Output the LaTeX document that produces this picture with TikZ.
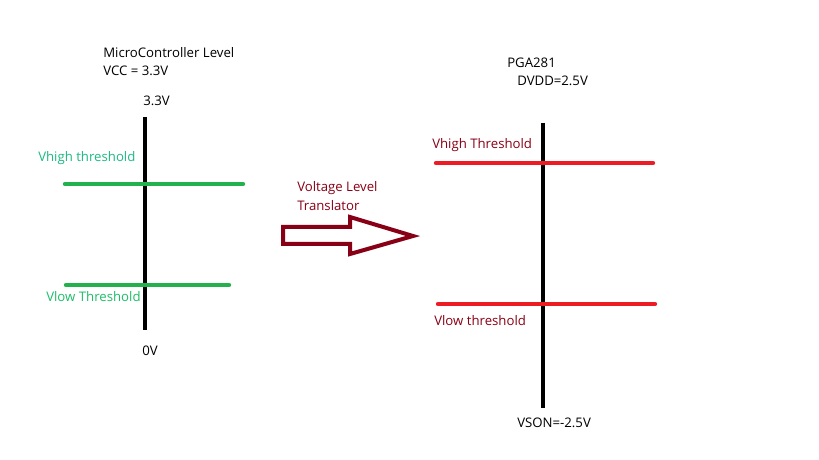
\documentclass[tikz,border=0pt]{standalone}
\usepackage{fontspec}
\setmainfont{Open Sans}
\usepackage{xcolor}
\usepackage{tikz}
\usetikzlibrary{positioning}
\definecolor{hig}{RGB}{34,177,76}
\definecolor{higt}{RGB}{30,185,130}
\definecolor{redl}{RGB}{237,28,36}
\definecolor{maroon}{RGB}{136,0,21}

\begin{document}
\begin{tikzpicture}[x=0.75pt,y=-0.75pt,font=\fontsize{9.9}{12}\selectfont]
\tikzstyle{lbl}=[inner sep=0pt,anchor=west]
\tikzstyle{axis}=[line width=3pt]
\tikzstyle{lvl}=[line width=3.3pt,line cap=round]
\useasboundingbox (0,0) rectangle (819,460);
% microcontroller side
\node[lbl] (mct) at (103,53) {MicroController Level};
\node[lbl] (vcc) at (103,71) {VCC = 3.3V};
\node[lbl] (top) at (143,101) {3.3V};
\node[lbl] (bot) at (142,351) {0V};
\coordinate (la) at (145,117); \coordinate (lb) at (145,330);
\draw[axis] (la) -- (lb);
\coordinate (h1) at (65,184); \coordinate (h2) at (243,184);
\coordinate (l1) at (66,285); \coordinate (l2) at (229,285);
\draw[lvl,hig] (h1) -- (h2);
\draw[lvl,hig] (l1) -- (l2);
\node[lbl,higt] (vh) at (38,158) {Vhigh threshold};
\node[lbl,hig!85!cyan] (vl) at (46,297) {Vlow Threshold};
% translator
\node[lbl,maroon] (tr1) at (297,188) {Voltage Level};
\node[lbl,maroon] (tr2) at (297,206) {Translator};
\draw[maroon,line width=3pt,line join=miter] (283,227) -- (350,227) -- (350,217) -- (413,236)
  -- (350,254) -- (350,244) -- (283,244) -- cycle;
% PGA281 side
\node[lbl] (pga) at (507,63) {PGA281};
\node[lbl] (dvdd) at (517,81) {DVDD=2.5V};
\node[lbl] (vson) at (517,423) {VSON=-2.5V};
\coordinate (ra) at (543,123); \coordinate (rb) at (543,408);
\draw[axis] (ra) -- (rb);
\coordinate (rh1) at (436,163); \coordinate (rh2) at (653,163);
\coordinate (rl1) at (438,304); \coordinate (rl2) at (655,304);
\draw[lvl,redl] (rh1) -- (rh2);
\draw[lvl,redl] (rl1) -- (rl2);
\node[lbl,maroon] (rvh) at (432,145) {Vhigh Threshold};
\node[lbl,maroon] (rvl) at (434,321) {Vlow threshold};
\end{tikzpicture}
\end{document}
